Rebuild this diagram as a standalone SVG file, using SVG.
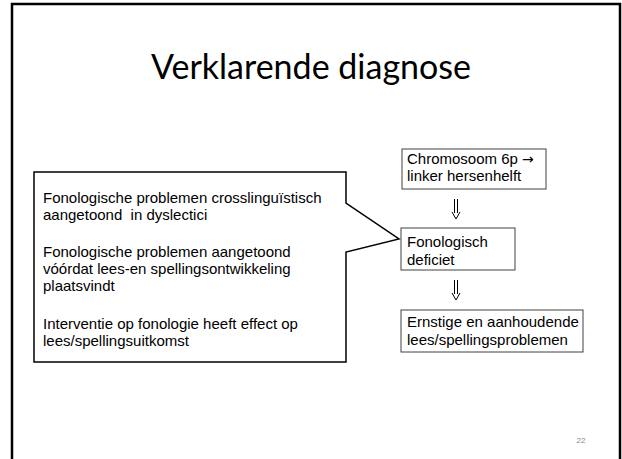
<svg xmlns="http://www.w3.org/2000/svg" width="622" height="459" viewBox="0 0 622 459">
<style>
.t{font-family:"Liberation Sans",Arial,sans-serif;font-size:15px;fill:#000;white-space:pre}
.sym{font-family:"DejaVu Sans",sans-serif;font-size:14px}
.box{fill:#fff;stroke:#404040;stroke-width:1}
.arr{fill:none;stroke:#000;stroke-width:1}
</style>
<rect width="622" height="459" fill="#fff"/>
<path d="M12,470 V4 H620 V470" fill="none" stroke="#000" stroke-width="2.5"/>
<text x="311" y="79" text-anchor="middle" font-family="Lato,'Open Sans',sans-serif" font-size="34" fill="#000">Verklarende diagnose</text>
<g id="callout">
<path d="M34,172 H346 V203 L399,239 L346,252 V362 H34 Z" fill="#fff" stroke="#000" stroke-width="1.5"/>
<text class="t" x="43" y="203">Fonologische problemen crosslinguïstisch</text>
<text class="t" x="43" y="220" xml:space="preserve">aangetoond  in dyslectici</text>
<text class="t" x="43" y="257">Fonologische problemen aangetoond</text>
<text class="t" x="43" y="274">vóórdat lees-en spellingsontwikkeling</text>
<text class="t" x="43" y="291">plaatsvindt</text>
<text class="t" x="43" y="329">Interventie op fonologie heeft effect op</text>
<text class="t" x="43" y="346">lees/spellingsuitkomst</text>
</g>
<g id="chromosoom">
<rect class="box" x="402" y="149" width="144" height="40"/>
<text class="t" x="407" y="164">Chromosoom 6p <tspan class="sym">→</tspan></text>
<text class="t" x="407" y="181">linker hersenhelft</text>
</g>
<g id="fonologisch">
<rect class="box" x="401" y="228" width="114" height="42"/>
<text class="t" x="407" y="247">Fonologisch</text>
<text class="t" x="407" y="265">deficiet</text>
</g>
<g id="ernstige">
<rect class="box" x="401" y="310" width="182" height="42"/>
<text class="t" x="407" y="327">Ernstige en aanhoudende</text>
<text class="t" x="407" y="345">lees/spellingsproblemen</text>
</g>
<g id="connectors">
<path class="arr" d="M454.5,199 V213 M457.5,199 V213 M452,212 L456,219 L460,212"/>
<path class="arr" d="M454.5,280 V294 M457.5,280 V294 M452,293 L456,300 L460,293"/>
</g>
<text x="581" y="443" text-anchor="middle" font-family="'Liberation Sans',sans-serif" font-size="8" fill="#888">22</text>
</svg>
